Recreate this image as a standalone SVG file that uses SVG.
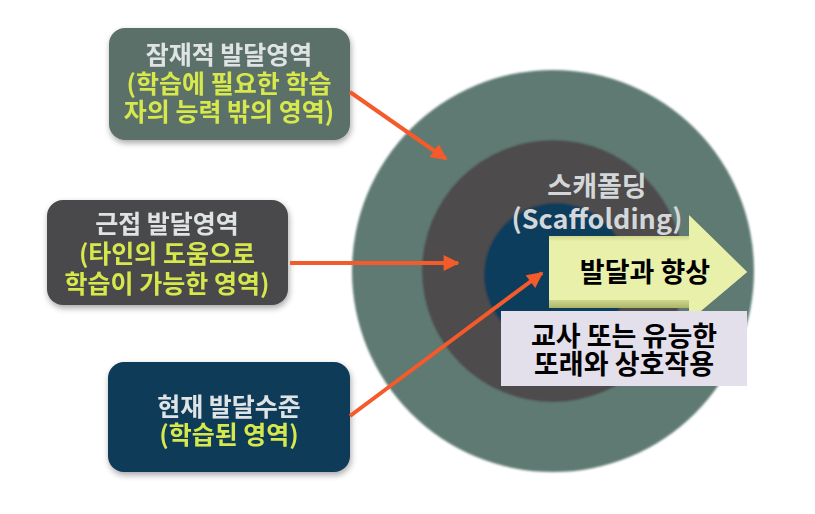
<svg xmlns="http://www.w3.org/2000/svg" width="815" height="514" viewBox="0 0 815 514">
<style>
.t{font-family:"Noto Sans CJK KR","Noto Sans",sans-serif;font-weight:bold;text-anchor:middle}
.w{fill:#dfe3e3;font-size:25px}
.y{fill:#d6e84c;font-size:25px}
.k{fill:#000;font-size:27px}
.conn{stroke:#f45a2a;stroke-width:4;fill:none;marker-end:url(#ah)}
</style>
<defs>
<marker id="ah" viewBox="0 0 10 10" refX="9" refY="5" markerWidth="4.5" markerHeight="4" orient="auto" markerUnits="strokeWidth">
<path d="M0,0 L10,5 L0,10 z" fill="#f45a2a"/>
</marker>
<filter id="sh" x="-10%" y="-10%" width="120%" height="130%">
<feGaussianBlur in="SourceAlpha" stdDeviation="3"/>
<feOffset dx="1" dy="3"/>
<feComponentTransfer><feFuncA type="linear" slope="0.35"/></feComponentTransfer>
<feMerge><feMergeNode/><feMergeNode in="SourceGraphic"/></feMerge>
</filter>
<filter id="soft"><feGaussianBlur stdDeviation="1.2"/></filter>
<linearGradient id="ag" x1="0" y1="0" x2="0" y2="1">
<stop offset="0" stop-color="#6f7a2a"/>
<stop offset="0.25" stop-color="#e9f0a9"/>
<stop offset="0.75" stop-color="#e9f0a9"/>
<stop offset="1" stop-color="#6f7a2a"/>
</linearGradient>
</defs>
<rect width="815" height="514" fill="#fff"/>
<g id="circles" filter="url(#soft)">
<circle cx="553" cy="271" r="201" fill="#5f7a73"/>
<circle cx="553" cy="271" r="131" fill="#4d4b4c"/>
<circle cx="556" cy="275" r="72" fill="#0d3d5c"/>
</g>
<g id="scaffolding">
<text class="t" x="597" y="196" font-size="27" fill="#d4d7da" font-weight="600">스캐폴딩</text>
<text class="t" x="597" y="229" font-size="27" fill="#d4d7da" font-weight="600">(Scaffolding)</text>
</g>
<g id="growth">
<path d="M549,236 H689 V215 L747,272 L689,321 V308 H549 z" fill="url(#ag)"/>
<path d="M549,243 H689 V215 L747,272 L689,321 V300 H549 z" fill="#e9f0a9"/>
<text class="t k" x="645" y="282">발달과 향상</text>
</g>
<g id="interaction">
<rect x="501" y="311" width="246" height="75" fill="#e3dfeb"/>
<text class="t k" x="624" y="346">교사 또는 유능한</text>
<text class="t k" x="624" y="374">또래와 상호작용</text>
</g>
<g id="potential" filter="url(#sh)">
<rect x="109" y="28" width="241" height="112" rx="16" fill="#5a6f69"/>
<text class="t w" x="229" y="64" font-size="26">잠재적 발달영역</text>
<text class="t y" x="229" y="93">(학습에 필요한 학습</text>
<text class="t y" x="229" y="121">자의 능력 밖의 영역)</text>
</g>
<g id="proximal" filter="url(#sh)">
<rect x="47" y="200" width="241" height="105" rx="16" fill="#4a4a4b"/>
<text class="t w" x="167" y="233">근접 발달영역</text>
<text class="t y" x="167" y="263">(타인의 도움으로</text>
<text class="t y" x="167" y="293">학습이 가능한 영역)</text>
</g>
<g id="current" filter="url(#sh)">
<rect x="108" y="362" width="242" height="110" rx="16" fill="#0e3a58"/>
<text class="t w" x="229" y="416">현재 발달수준</text>
<text class="t y" x="229" y="444">(학습된 영역)</text>
</g>
<g id="connectors">
<line class="conn" x1="350" y1="92" x2="446" y2="159"/>
<line class="conn" x1="290" y1="263" x2="458" y2="263"/>
<line class="conn" x1="350" y1="416" x2="542" y2="273"/>
</g>
</svg>
